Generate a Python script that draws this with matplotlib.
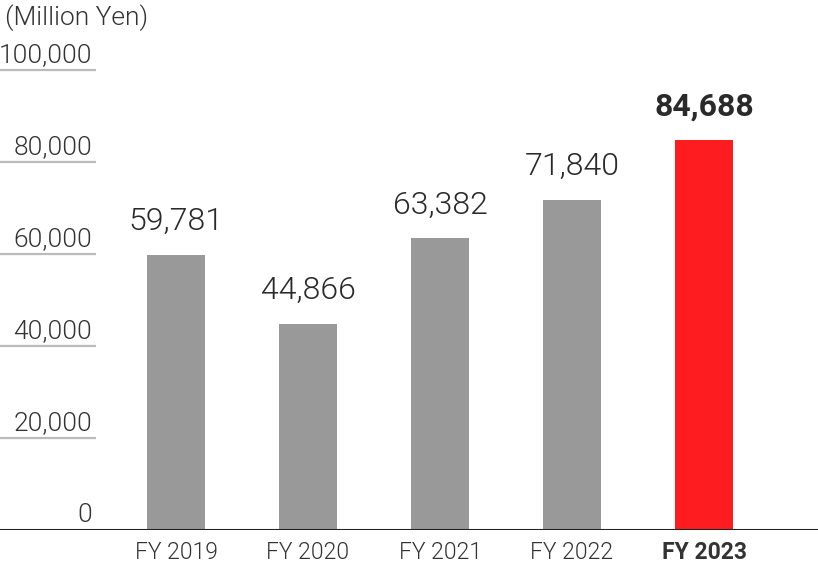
import matplotlib.pyplot as plt

plt.rcParams['font.family'] = ['Roboto', 'DejaVu Sans']

# data
years = ['FY 2019', 'FY 2020', 'FY 2021', 'FY 2022', 'FY 2023']
sales = [59781, 44866, 63382, 71840, 84688]
yticks = [0, 20000, 40000, 60000, 80000, 100000]

W, H = 818, 588
fig = plt.figure(figsize=(W / 100, H / 100), dpi=100)
ax = fig.add_axes([0, (H - 530) / H, 1, 460 / H])

colors = ['#999999'] * 4 + ['#fd1c20']
x = list(range(len(years)))
ax.bar(x, sales, width=0.44, color=colors, zorder=2)

ax.set_xlim(-176 / 132, (W - 176) / 132)
ax.set_ylim(0, 100000)

LIGHT = 300

# value labels
for i, v in enumerate(sales):
    last = i == len(sales) - 1
    ax.annotate(f'{v:,}', (i, v), xytext=(0, 18), textcoords='offset points',
                ha='center', va='baseline', fontsize=23,
                fontweight='bold' if last else LIGHT, color='#2a2a2a')

# short gridlines with labels above them on the left
tr = ax.get_yaxis_transform()
for t in yticks:
    if t > 0:
        ax.plot([0, 96 / W], [t, t], transform=tr, color='#bbbbbb', lw=1.6,
                solid_capstyle='butt', clip_on=False)
    ax.annotate(f'{t:,}', (92 / W, t), xycoords=tr, xytext=(0, 6),
                textcoords='offset points', ha='right', va='baseline',
                fontsize=19, fontweight=LIGHT, color='#333333')

ax.axhline(0, color='#222222', lw=2.2, zorder=3)

ax.text(5 / W, 1 + 52 / 460, '(Million Yen)', transform=ax.transAxes,
        ha='left', va='center', fontsize=19, fontweight=LIGHT,
        color='#333333')

# x labels
ax.set_xticks(x)
ax.set_xticklabels(years)
ax.tick_params(axis='x', length=0, pad=8, labelsize=16.5, labelcolor='#333333')
for i, lab in enumerate(ax.get_xticklabels()):
    lab.set_fontweight('bold' if i == len(years) - 1 else LIGHT)
ax.set_yticks([])
for s in ax.spines.values():
    s.set_visible(False)

fig.savefig('out.png', dpi=100)
